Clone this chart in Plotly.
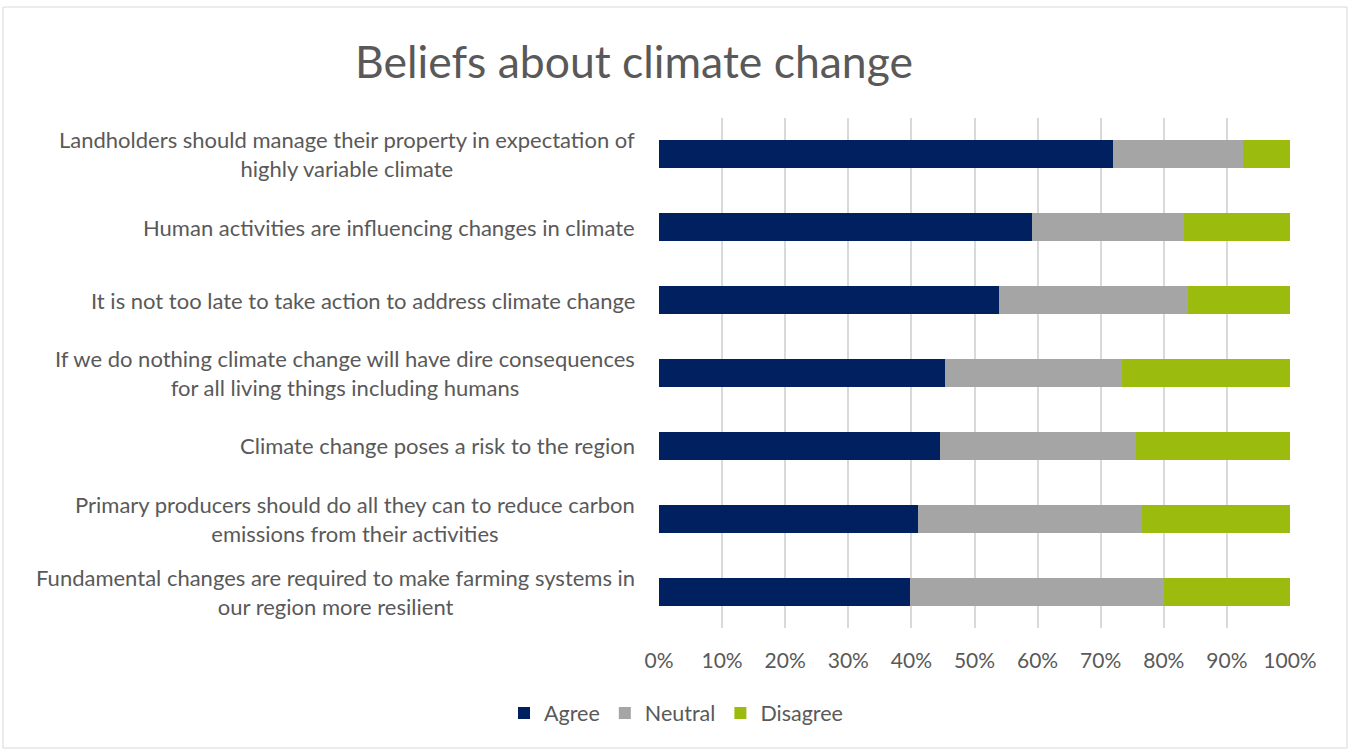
import plotly.graph_objects as go

# Survey statements (top to bottom) and response shares in percent
statements = [
    "Landholders should manage their property in expectation of<br>highly variable climate",
    "Human activities are influencing changes in climate",
    "It is not too late to take action to address climate change",
    "If we do nothing climate change will have dire consequences<br>for all living things including humans",
    "Climate change poses a risk to the region",
    "Primary producers should do all they can to reduce carbon<br>emissions from their activities",
    "Fundamental changes are required to make farming systems in<br>our region more resilient",
]
agree = [72.0, 59.1, 53.9, 45.4, 44.6, 41.1, 39.7]
neutral = [20.6, 24.1, 30.0, 27.9, 31.0, 35.5, 40.3]
disagree = [7.4, 16.8, 16.1, 26.7, 24.4, 23.4, 20.0]

series_names = ["Agree", "Neutral", "Disagree"]
series_colors = ["#002060", "#A5A5A5", "#9BBB0E"]

tick_values = list(range(0, 101, 10))
tick_labels = [f"{v}%" for v in tick_values]

FONT = "Lato"
TEXT = "#595959"

fig = go.Figure()
for name, vals, col in zip(series_names, [agree, neutral, disagree], series_colors):
    fig.add_trace(go.Bar(
        name=name, y=statements, x=vals, orientation="h",
        marker=dict(color=col, line=dict(width=0)),
        hoverinfo="x+name",
    ))

# Category labels, centred line-by-line and right-aligned against the axis
annotations = []
for s in statements:
    annotations.append(dict(
        text=s, x=0, xref="paper", y=s, yref="y",
        xanchor="right", yanchor="middle", xshift=-22,
        align="center", showarrow=False,
        font=dict(family=FONT, size=22, color=TEXT),
    ))

fig.update_layout(
    barmode="stack",
    bargap=0.615,
    width=1354, height=749,
    paper_bgcolor="white", plot_bgcolor="white",
    margin=dict(l=659, r=64, t=118, b=121),
    title=dict(
        text="Beliefs about climate change",
        x=634 / 1354, xanchor="center", xref="container",
        y=1 - 62 / 749, yanchor="middle", yref="container",
        font=dict(family=FONT, size=44.5, color=TEXT),
    ),
    xaxis=dict(
        range=[0, 100], tickvals=tick_values, ticktext=tick_labels,
        showgrid=True, gridcolor="#D9D9D9", gridwidth=1.5,
        zeroline=False, showline=False, ticks="",
        tickfont=dict(family=FONT, size=21, color=TEXT),
        ticklabelstandoff=18, fixedrange=True,
    ),
    yaxis=dict(
        autorange="reversed", showticklabels=False, showgrid=False,
        zeroline=False, showline=False, ticks="", fixedrange=True,
    ),
    legend=dict(
        orientation="h", x=676 / 1354, xref="container", xanchor="center",
        y=1 - 713 / 749, yref="container", yanchor="middle",
        font=dict(family=FONT, size=21.5, color=TEXT),
        traceorder="normal", itemwidth=30,
    ),
    annotations=annotations,
    shapes=[dict(
        type="rect", xref="paper", yref="paper",
        x0=(3 - 659) / 631, x1=(1347 - 659) / 631,
        y0=(628 - 748) / 510, y1=(628 - 7) / 510,
        line=dict(color="#D9D9D9", width=1), fillcolor="rgba(0,0,0,0)",
        layer="below",
    )],
    showlegend=True,
)

fig.write_html("out.html")
